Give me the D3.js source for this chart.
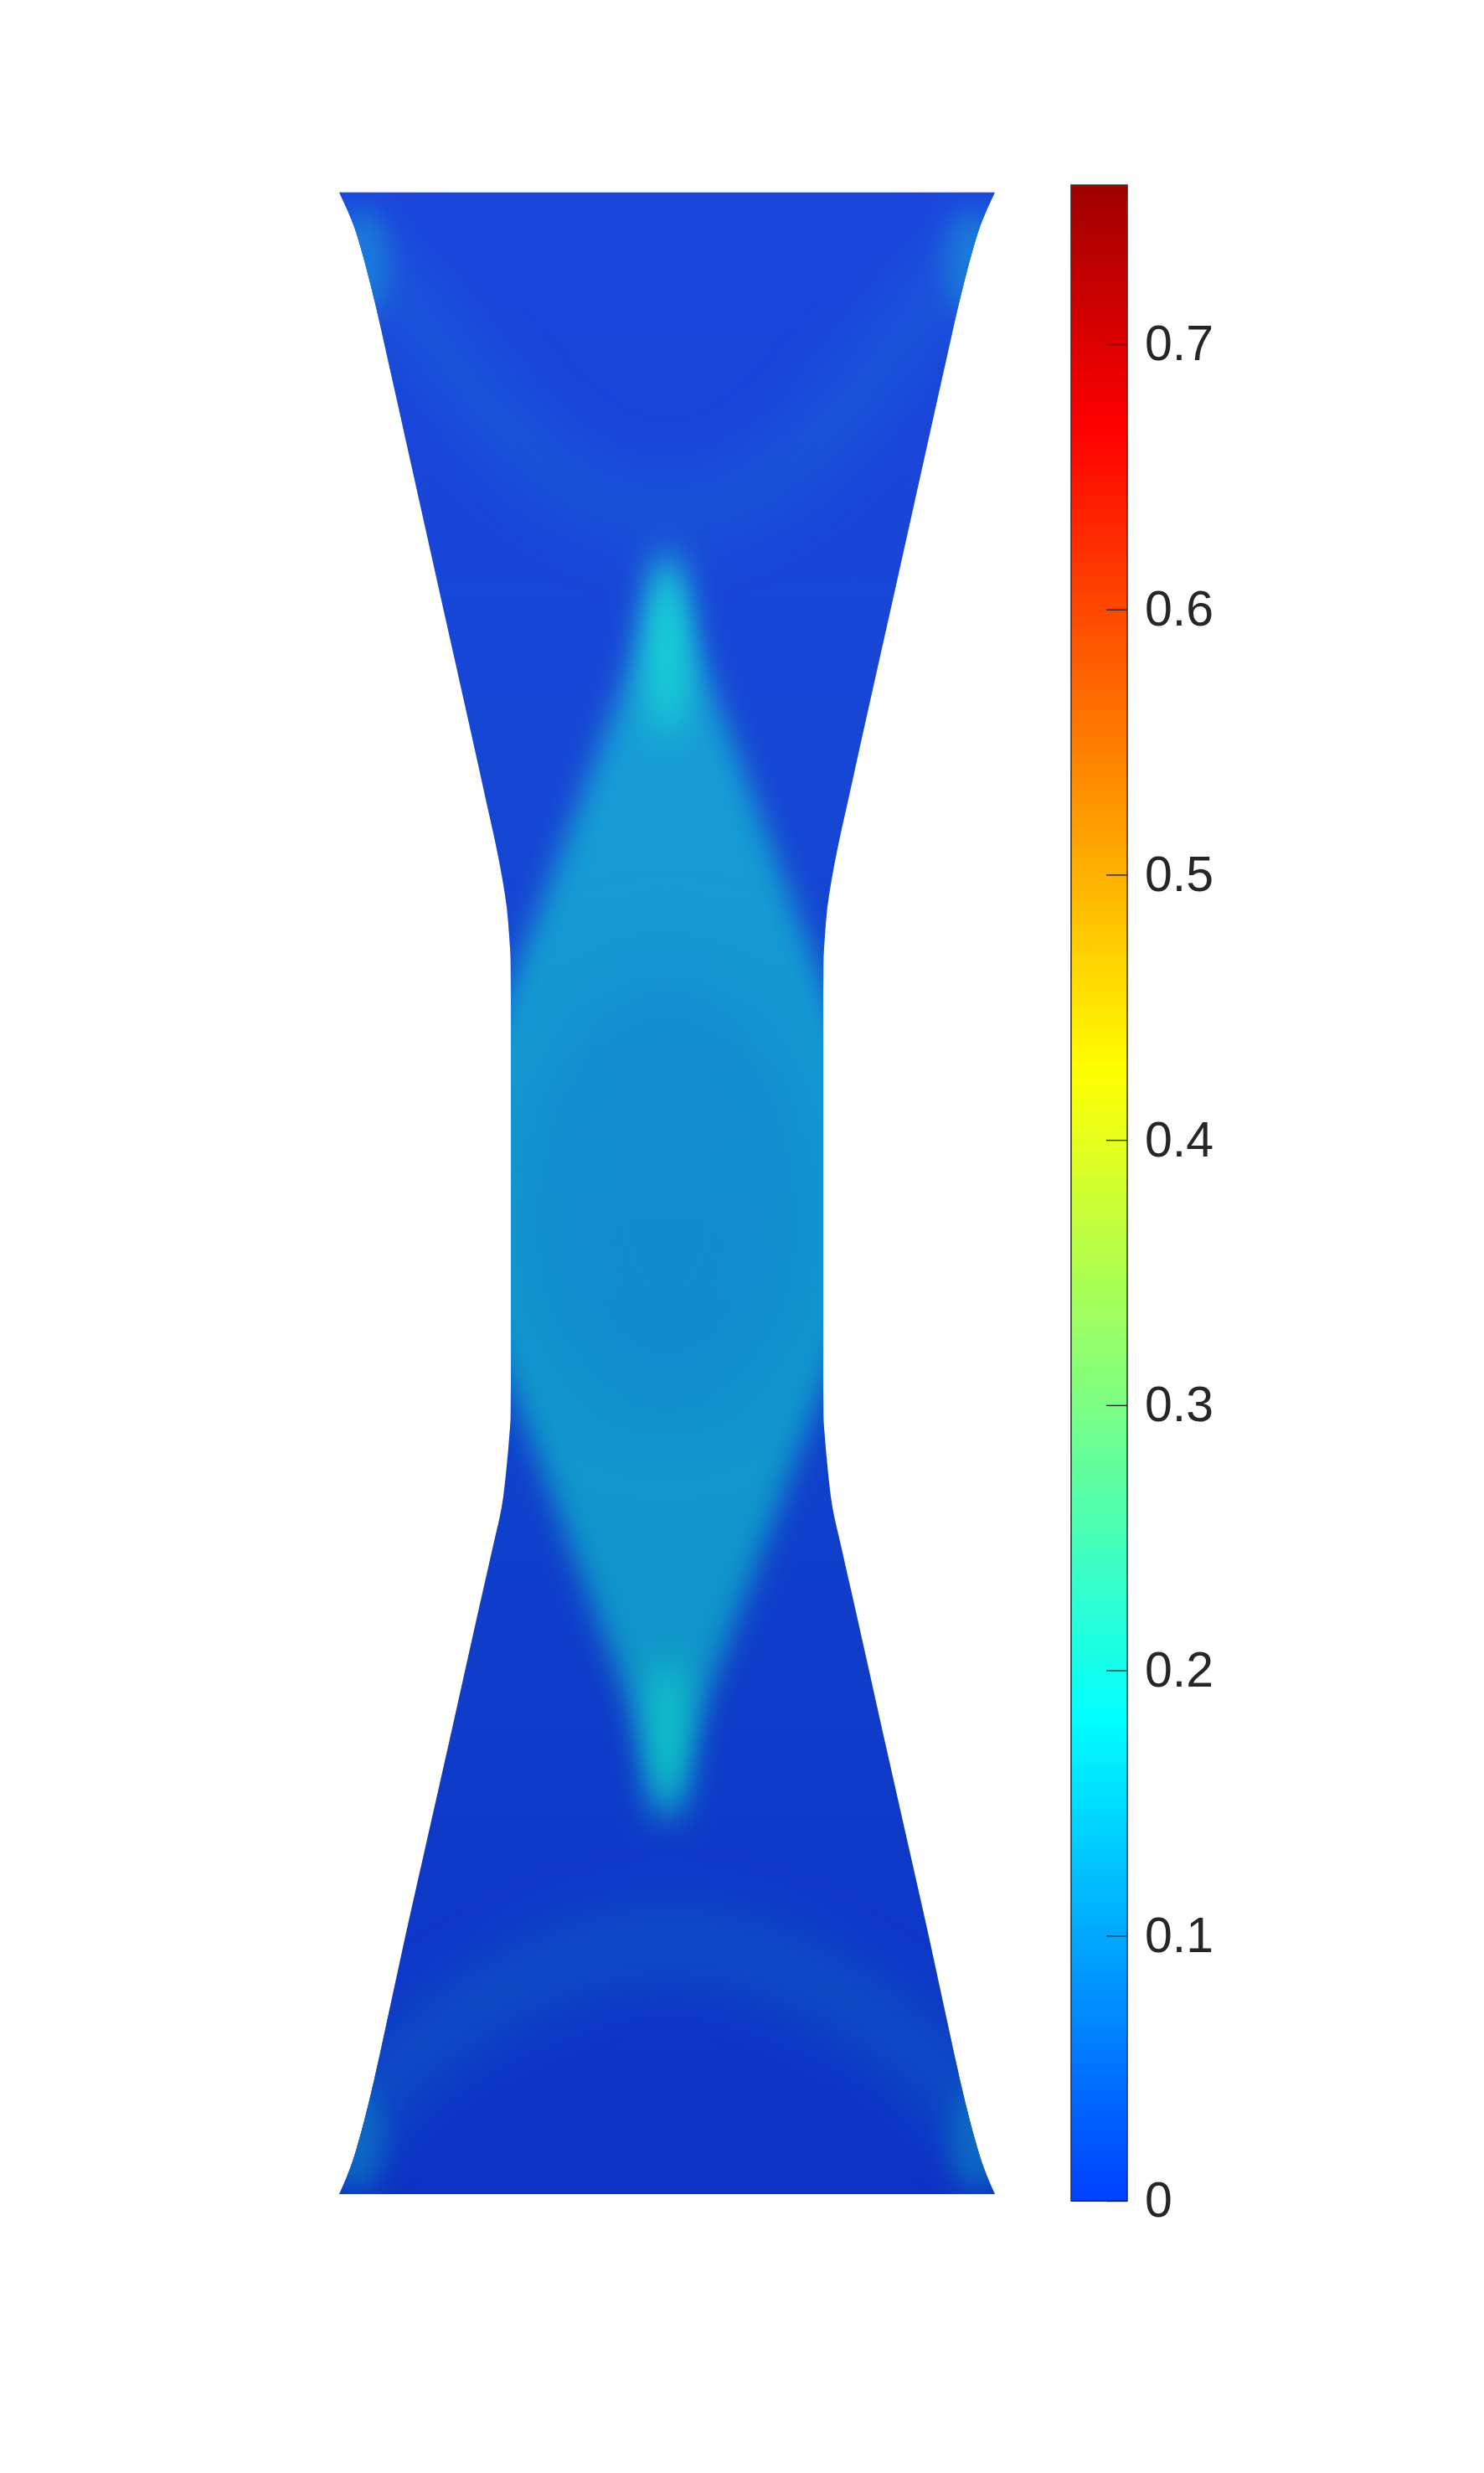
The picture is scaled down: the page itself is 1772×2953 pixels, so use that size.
<!DOCTYPE html>
<html><head><meta charset="utf-8">
<script src="https://cdn.jsdelivr.net/npm/d3@7"></script>
<style>html,body{margin:0;padding:0;background:#fff}</style>
</head><body>
<svg id="chart" width="1772" height="2953"></svg>
<script>
// ---------------- data (specimen units, mm) ----------------
const colorDomain = [0, 0.76];
const colorbarTicks = [0, 0.1, 0.2, 0.3, 0.4, 0.5, 0.6, 0.7];

// half width of the deformed specimen along its height (symmetric)
const boundaryY = [61.06, 60.54, 60.03, 59.40, 58.75, 57.47, 56.19, 53.64, 50.00, 47.00, 44.00, 42.50, 41.38, 40.10, 39.26, 38.39, 37.55, 35.00, 30.50, 26.00, 23.75, 23.07, 22.22, 20.95, 19.80, 17.50, 14.00, 10.50, 7.74, 5.19, 3.50, 2.22, 1.60, 1.00, 0.50, 0.00];
const boundaryHalfWidth = [10.00, 9.76, 9.55, 9.35, 9.17, 8.854, 8.569, 8.00, 7.19, 6.52, 5.85, 5.52, 5.27, 5.02, 4.89, 4.815, 4.77, 4.76, 4.76, 4.76, 4.77, 4.815, 4.89, 5.045, 5.30, 5.82, 6.60, 7.39, 8.01, 8.56, 8.93, 9.24, 9.41, 9.59, 9.78, 10.00];

// background level along the height
const backgroundY = [61.06, 45.0, 30.5, 15.0, 0.0];
const backgroundValue = [0.016, 0.02, 0.02, 0.012, 0.003];

// central diamond (localised zone)
const diamondX = [0, -7.06, 0, 7.06];
const diamondY = [49.6, 30.78, 11.9, 30.78];
const diamondValue = 0.12;

// slightly lower core in the middle of the diamond
const coreX = [0], coreY = [30.65], coreRx = [4.4], coreRy = [6.8], coreValue = [0.102];

// peaks at the diamond tips
const tipX = [0, 0], tipY = [47.3, 13.9], tipRx = [0.6, 0.6], tipRy = [2.8, 2.5], tipValue = [0.183, 0.178];

// faint shear bands from the grip corners
const bandTopX = [-10.2, -9.18, -7.70, -6.25, -4.05, -1.85, 0, 1.85, 4.05, 6.25, 7.70, 9.18, 10.2];
const bandTopY = [60.1, 58.95, 57.37, 55.43, 53.05, 51.67, 51.28, 51.67, 53.05, 55.43, 57.37, 58.95, 60.1];
const bandBottomX = [-10.2, -9.18, -7.70, -4.76, -1.85, 0, 1.85, 4.76, 7.70, 9.18, 10.2];
const bandBottomY = [1.7, 2.81, 4.37, 6.33, 7.51, 7.71, 7.51, 6.33, 4.37, 2.81, 1.7];
const bandValue = 0.035;

// brighter streaks where the bands leave the fillets
const cornerX = [-9.3, 9.3, -9.45, 9.45], cornerY = [58.9, 58.9, 1.7, 1.7], cornerValue = [0.075, 0.075, 0.07, 0.07];

// ---------------- scales ----------------
const x = d3.scaleLinear().domain([-10, 10]).range([405, 1188]);
const y = d3.scaleLinear().domain([0, 61.06]).range([2620, 229.7]);
const unit = (x(1) - x(0));

function clamp(v){ return Math.max(0, Math.min(1, v)); }
function jet(t){
  const r = clamp(Math.min(4*t - 1.5, -4*t + 4.5));
  const g = clamp(Math.min(4*t - 0.5, -4*t + 3.5));
  const b = clamp(Math.min(4*t + 0.5, -4*t + 2.5));
  return d3.rgb(r*255, g*255, b*255).formatRgb();
}
const color = d3.scaleSequential(t => jet(0.187 + t*0.782)).domain(colorDomain);

const svg = d3.select("#chart");
const defs = svg.append("defs");

function addBlur(id, std){
  defs.append("filter").attr("id", id)
    .attr("filterUnits", "userSpaceOnUse")
    .attr("x", 0).attr("y", 0).attr("width", 1772).attr("height", 2953)
    .append("feGaussianBlur").attr("stdDeviation", std);
}
addBlur("bBand", 32);
addBlur("bCorner", 16);
addBlur("bDiamond", 17);
addBlur("bCore", 50);
addBlur("bTip", 20);

// specimen outline as an area between the two mirrored edges
const profile = boundaryY.map((v, i) => ({y: v, w: boundaryHalfWidth[i]}));
const outline = d3.area()
  .y(d => y(d.y)).x0(d => x(-d.w)).x1(d => x(d.w))
  .curve(d3.curveMonotoneY);
defs.append("clipPath").attr("id", "specimen").append("path").attr("d", outline(profile));

// background gradient
const bg = defs.append("linearGradient").attr("id", "bgGrad")
  .attr("gradientUnits", "userSpaceOnUse")
  .attr("x1", 0).attr("x2", 0).attr("y1", y(61.06)).attr("y2", y(0));
backgroundY.forEach((v, i) => {
  bg.append("stop").attr("offset", (61.06 - v)/61.06).attr("stop-color", color(backgroundValue[i]));
});

// lighting of the rendered surface
const light = defs.append("linearGradient").attr("id", "lightGrad")
  .attr("gradientUnits", "userSpaceOnUse")
  .attr("x1", 0).attr("x2", 0).attr("y1", y(61.06)).attr("y2", y(0));
[[0, "rgb(190,0,0)", 0.14], [0.5, "rgb(90,0,0)", 0.19], [1, "rgb(51,0,0)", 0.235]].forEach(s => {
  light.append("stop").attr("offset", s[0]).attr("stop-color", s[1]).attr("stop-opacity", s[2]);
});

const field = svg.append("g").attr("clip-path", "url(#specimen)");
field.append("rect").attr("x", x(-11)).attr("y", y(62.5)).attr("width", x(11) - x(-11)).attr("height", y(-1.5) - y(62.5))
  .attr("fill", "url(#bgGrad)");

const bandLine = d3.line().x(d => x(d[0])).y(d => y(d[1])).curve(d3.curveCatmullRom.alpha(0.5));
[[bandTopX, bandTopY], [bandBottomX, bandBottomY]].forEach(([bx, by]) => {
  field.append("path").attr("d", bandLine(bx.map((v, i) => [v, by[i]])))
    .attr("fill", "none").attr("stroke", color(bandValue)).attr("stroke-width", 2.0*unit)
    .attr("filter", "url(#bBand)");
});

field.selectAll("ellipse.corner").data(cornerX.map((v, i) => ({x: v, y: cornerY[i], v: cornerValue[i]})))
  .join("ellipse").attr("class", "corner")
  .attr("cx", d => x(d.x)).attr("cy", d => y(d.y)).attr("rx", 0.8*unit).attr("ry", 1.6*unit)
  .attr("fill", d => color(d.v)).attr("filter", "url(#bCorner)");

field.append("path")
  .attr("d", d3.line().x(d => x(d[0])).y(d => y(d[1]))(diamondX.map((v, i) => [v, diamondY[i]])) + "Z")
  .attr("fill", color(diamondValue)).attr("filter", "url(#bDiamond)");

field.selectAll("ellipse.core").data(coreX.map((v, i) => ({x: v, y: coreY[i], rx: coreRx[i], ry: coreRy[i], v: coreValue[i]})))
  .join("ellipse").attr("class", "core")
  .attr("cx", d => x(d.x)).attr("cy", d => y(d.y)).attr("rx", d => d.rx*unit).attr("ry", d => d.ry*unit)
  .attr("fill", d => color(d.v)).attr("filter", "url(#bCore)");

field.selectAll("ellipse.tip").data(tipX.map((v, i) => ({x: v, y: tipY[i], rx: tipRx[i], ry: tipRy[i], v: tipValue[i]})))
  .join("ellipse").attr("class", "tip")
  .attr("cx", d => x(d.x)).attr("cy", d => y(d.y)).attr("rx", d => d.rx*unit).attr("ry", d => d.ry*unit)
  .attr("fill", d => color(d.v)).attr("filter", "url(#bTip)");

field.append("rect").attr("x", x(-11)).attr("y", y(62.5)).attr("width", x(11) - x(-11)).attr("height", y(-1.5) - y(62.5))
  .attr("fill", "url(#lightGrad)");

// ---------------- colorbar ----------------
const cbX0 = 1279, cbX1 = 1346;
const cb = d3.scaleLinear().domain(colorDomain).range([2628, 221]);
const step = 0.002;
const cbVals = d3.range(0, colorDomain[1], step);
svg.append("g").selectAll("rect").data(cbVals).join("rect")
  .attr("x", cbX0).attr("width", cbX1 - cbX0)
  .attr("y", d => cb(Math.min(d + step, colorDomain[1])))
  .attr("height", d => cb(d) - cb(Math.min(d + step, colorDomain[1])) + 0.6)
  .attr("fill", d => color(d + step/2))
  .attr("shape-rendering", "crispEdges");
svg.append("rect").attr("x", cbX0).attr("y", cb(colorDomain[1])).attr("width", cbX1 - cbX0)
  .attr("height", cb(0) - cb(colorDomain[1])).attr("fill", "none").attr("stroke", "#333").attr("stroke-width", 1.6);

const axis = d3.axisRight(cb).tickValues(colorbarTicks).tickFormat(d3.format("~g"))
  .tickSizeInner(-25).tickSizeOuter(0).tickPadding(21);
const ax = svg.append("g").attr("transform", `translate(${cbX1},0)`).call(axis);
ax.select(".domain").remove();
ax.selectAll(".tick line").attr("stroke", "#262626").attr("stroke-width", 1.4);
ax.selectAll(".tick text").attr("fill", "#262626")
  .attr("font-family", "'Liberation Sans', Arial, Helvetica, sans-serif").attr("font-size", 59);
</script>
</body></html>
